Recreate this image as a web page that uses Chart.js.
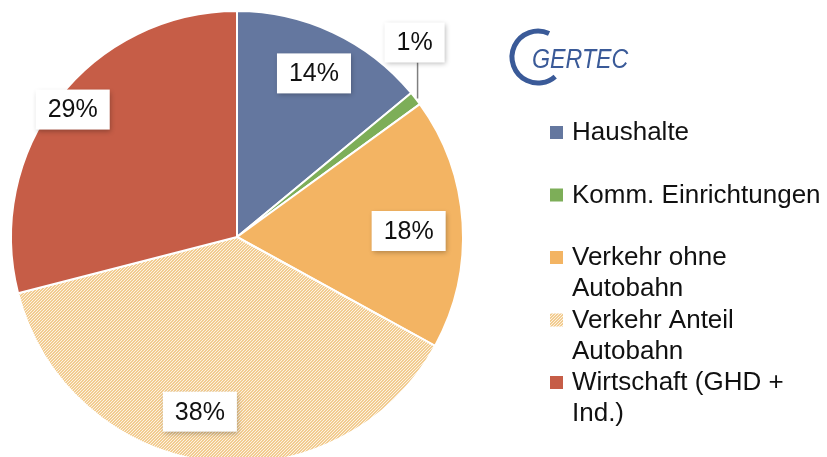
<!DOCTYPE html>
<html>
<head>
<meta charset="utf-8">
<script src="https://cdn.jsdelivr.net/npm/chart.js@4/dist/chart.umd.min.js"></script>
<style>
  html, body { margin: 0; padding: 0; background: #fff; overflow: hidden; }
  #wrap { position: relative; width: 827px; height: 474px; }
</style>
</head>
<body>
<div id="wrap"><canvas id="pieChart"></canvas></div>
<script>
// data
const categories = ['Haushalte', 'Komm. Einrichtungen', ['Verkehr ohne', 'Autobahn'], ['Verkehr Anteil', 'Autobahn'], ['Wirtschaft (GHD +', 'Ind.)']];
const shares = [14, 1, 18, 38, 29];
const shareLabels = ['14%', '1%', '18%', '38%', '29%'];

// hatch for the motorway share
function hatch() {
  const c = document.createElement('canvas');
  c.width = 3; c.height = 3;
  const g = c.getContext('2d');
  g.fillStyle = '#F2CC90';
  g.fillRect(0, 0, 3, 3);
  g.strokeStyle = 'rgba(255,255,255,0.75)';
  g.lineWidth = 1;
  g.beginPath();
  g.moveTo(0, 3); g.lineTo(3, 0);
  g.moveTo(-1, 1); g.lineTo(1, -1);
  g.moveTo(2, 4); g.lineTo(4, 2);
  g.stroke();
  return g.createPattern(c, 'repeat');
}

const colors = ['#64779F', '#7DAE58', '#F3B463', hatch(), '#C65D47'];

// value boxes on the slices
const boxLabels = {
  id: 'boxLabels',
  afterDatasetsDraw(chart, args, opts) {
    const ctx = chart.ctx;
    const arcs = chart.getDatasetMeta(0).data;
    ctx.save();
    ctx.font = '25px "Liberation Sans", Arial, sans-serif';
    ctx.textAlign = 'center';
    ctx.textBaseline = 'middle';
    arcs.forEach((arc, i) => {
      const mid = (arc.startAngle + arc.endAngle) / 2 + opts.shift[i] * Math.PI / 180;
      let x, y;
      if (opts.callout[i]) {
        const ox = arc.x + Math.cos(mid) * arc.outerRadius;
        const oy = arc.y + Math.sin(mid) * arc.outerRadius;
        x = ox - 1; y = oy - 56;
        ctx.strokeStyle = '#7f7f7f';
        ctx.lineWidth = 1.5;
        ctx.beginPath();
        ctx.moveTo(ox + 2, oy);
        ctx.lineTo(ox + 2, y + 20);
        ctx.stroke();
      } else {
        const r = arc.outerRadius * opts.radius[i];
        x = arc.x + Math.cos(mid) * r;
        y = arc.y + Math.sin(mid) * r;
      }
      const text = shareLabels[i];
      const w = ctx.measureText(text).width + 24;
      const h = 40;
      ctx.save();
      ctx.shadowColor = 'rgba(0,0,0,0.28)';
      ctx.shadowBlur = 5;
      ctx.shadowOffsetX = 1;
      ctx.shadowOffsetY = 2;
      ctx.fillStyle = '#ffffff';
      ctx.fillRect(x - w / 2, y - h / 2, w, h);
      ctx.restore();
      ctx.fillStyle = '#111111';
      ctx.fillText(text, x, y + 1);
    });
    ctx.restore();
  }
};

// legend + logo on the right
const sideLegend = {
  id: 'sideLegend',
  afterDraw(chart) {
    const ctx = chart.ctx;
    const ds = chart.data.datasets[0];
    ctx.save();
    ctx.font = '26px "Liberation Sans", Arial, sans-serif';
    ctx.textBaseline = 'alphabetic';
    chart.data.labels.forEach((label, i) => {
      const lines = Array.isArray(label) ? label : [label];
      const base = 140 + i * 62.5;
      ctx.fillStyle = ds.backgroundColor[i];
      ctx.fillRect(550, base - 14, 13, 13);
      ctx.fillStyle = '#111111';
      lines.forEach((ln, j) => ctx.fillText(ln, 572, base + j * 31));
    });

    // logo
    ctx.strokeStyle = '#3A5A98';
    ctx.lineWidth = 5;
    ctx.beginPath();
    ctx.arc(538, 57, 26, -Math.PI * 0.36, Math.PI * 0.27, true);
    ctx.stroke();
    ctx.fillStyle = '#3A5A98';
    ctx.translate(532, 68);
    ctx.scale(0.86, 1);
    ctx.font = 'italic 27px "Liberation Sans", Arial, sans-serif';
    ctx.fillText('GERTEC', 0, 0);
    ctx.restore();
  }
};

new Chart(document.getElementById('pieChart'), {
  type: 'pie',
  data: {
    labels: categories,
    datasets: [{
      data: shares,
      backgroundColor: colors,
      borderColor: '#ffffff',
      borderWidth: 2
    }]
  },
  options: {
    responsive: true,
    maintainAspectRatio: false,
    animation: false,
    layout: { padding: { left: 10, top: 10, right: 363, bottom: 10 } },
    plugins: {
      legend: { display: false },
      tooltip: { enabled: false },
      boxLabels: {
        radius: [0.8, 0, 0.76, 0.79, 0.92],
        shift: [0, 0, 1.6, 4.8, 0],
        callout: [false, true, false, false, false]
      }
    }
  },
  plugins: [boxLabels, sideLegend]
});
</script>
</body>
</html>
